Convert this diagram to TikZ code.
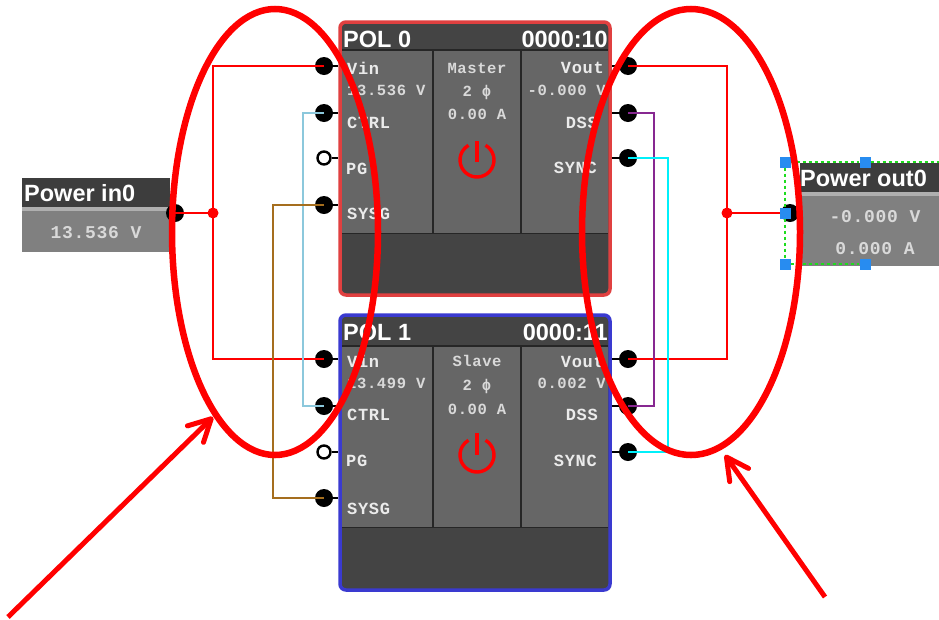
\documentclass[tikz,border=0pt]{standalone}
\usepackage{fontspec}
\setmainfont{Liberation Sans}
\newfontfamily\panelmono[LetterSpace=4]{Liberation Mono}
\usepackage{tikz}
\usetikzlibrary{shapes.geometric, arrows.meta, positioning, calc}
\definecolor{polHead}{RGB}{68, 68, 68}
\definecolor{polBody}{RGB}{102, 102, 102}
\definecolor{polRed}{RGB}{224, 64, 64}
\definecolor{polBlue}{RGB}{58, 58, 208}
\definecolor{powerBody}{RGB}{128, 128, 128}
\definecolor{powerStrip}{RGB}{175, 175, 175}
\definecolor{wireBlue}{RGB}{140, 200, 220}
\definecolor{wireBrown}{RGB}{165, 110, 30}
\definecolor{wirePurple}{RGB}{135, 40, 145}
\definecolor{wireCyan}{RGB}{0, 240, 250}
\definecolor{handleBlue}{RGB}{40, 140, 240}
\definecolor{selGreen}{RGB}{30, 220, 30}

\begin{document}
\begin{tikzpicture}[
  x=1pt, y=-1pt,
  polbox/.style={rectangle, rounded corners=6pt, line width=3.5pt, fill=polHead,
                 minimum width=270pt, inner sep=0pt},
  panel/.style={rectangle, fill=polBody, inner sep=0pt, anchor=north west},
  sep/.style={black!85, line width=1.5pt},
  powerpart/.style={rectangle, anchor=north west, inner sep=0pt},
  title/.style={inner sep=0pt, text=white, font=\fontsize{23.5}{24}\selectfont\bfseries,
                text height=17pt, text depth=0pt},
  lbl/.style={inner sep=0pt, text=white!92!black, font=\fontsize{17}{17}\panelmono\bfseries,
              text height=10pt, text depth=0pt},
  val/.style={inner sep=0pt, text=white!85!black, font=\fontsize{15.5}{15}\panelmono\bfseries,
              text height=9pt, text depth=0pt},
  pval/.style={val, font=\fontsize{18}{18}\panelmono\bfseries},
  port/.style={ellipse, fill=black, minimum width=18pt, minimum height=18pt, inner sep=0pt},
  openport/.style={circle, draw=black, fill=white, line width=2.4pt, minimum size=13pt, inner sep=0pt},
  junction/.style={circle, fill=red, minimum size=11pt, inner sep=0pt},
  stub/.style={black, line width=1.5pt},
  wire/.style={line width=2pt},
  fatwire/.style={line width=2.8pt},
  ring/.style={ellipse, draw=red, line width=6.5pt, inner sep=0pt},
  callout/.style={-{Straight Barb[length=22pt, width=23pt, round]}, red, line width=5pt},
  powericon/.style={red, line width=3.4pt},
  handle/.style={rectangle, fill=handleBlue, minimum size=11pt, inner sep=0pt},
  selbox/.style={selGreen, line width=1.5pt, dashed}
]
  \useasboundingbox (0,0) rectangle (939,619);
  \fill[white] (0,0) rectangle (939,619);

  % Power in
  \node[powerpart, fill=powerBody, minimum width=148pt, minimum height=41pt] (inbody) at (22,211) {};
  \node[powerpart, fill=powerStrip, minimum width=148pt, minimum height=4pt] (instrip) at (22,207) {};
  \node[powerpart, fill=polHead!90!black, minimum width=148pt, minimum height=29pt] (inhead) at (22,178) {};
  \node[title, anchor=west] (intitle) at (24,193) {Power in0};
  \node[pval, anchor=center] (inval) at (96,234) {13.536 V};

  % Power out
  \node[powerpart, fill=powerBody, minimum width=139pt, minimum height=70pt] (outbody) at (800,196) {};
  \node[powerpart, fill=powerStrip, minimum width=139pt, minimum height=4pt] (outstrip) at (800,192) {};
  \node[powerpart, fill=polHead!90!black, minimum width=139pt, minimum height=29pt] (outhead) at (800,163) {};
  \node[title, anchor=west] (outtitle) at (800,178) {Power out0};
  \node[pval, anchor=center] (outvolt) at (875,218) {-0.000 V};
  \node[pval, anchor=center] (outamp) at (875,250) {0.000 A};

  % POL 0
  \node[polbox, draw=polRed, minimum height=273pt] (pol0) at (475,158.5) {};
  \node[panel, minimum width=91pt, minimum height=183pt] (p0a) at (342,50) {};
  \node[panel, minimum width=88pt, minimum height=183pt] (p0b) at (433,50) {};
  \node[panel, minimum width=87pt, minimum height=183pt] (p0c) at (521,50) {};
  \draw[sep] (p0a.north west) -- (p0c.north east);
  \draw[sep] (p0a.south west) -- (p0c.south east);
  \draw[sep] (p0b.north west) -- (p0b.south west);
  \draw[sep] (p0c.north west) -- (p0c.south west);
  \node[title, anchor=west] (t0a) at (343,39) {POL 0};
  \node[title, anchor=east] (t0b) at (608,39) {0000:10};
  \node[lbl, anchor=west] (l0vin) at (347,69) {Vin};
  \node[val, anchor=west] (l0v) at (347,91) {13.536 V};
  \node[lbl, anchor=west] (l0ctrl) at (347,123) {CTRL};
  \node[lbl, anchor=west] (l0pg) at (346,169) {PG};
  \node[lbl, anchor=west] (l0sysg) at (347,214) {SYSG};
  \node[val, anchor=center] (l0mode) at (477,69) {Master};
  \node[val, anchor=center] (l0ph) at (477,92) {2 ϕ};
  \node[val, anchor=center] (l0a) at (477,115) {0.00 A};
  \node[lbl, anchor=east] (l0vout) at (604,68) {Vout};
  \node[val, anchor=east] (l0o) at (606,91) {-0.000 V};
  \node[lbl, anchor=east] (l0dss) at (598,123) {DSS};
  \node[lbl, anchor=east] (l0sync) at (597,168) {SYNC};

  % POL 1
  \node[polbox, draw=polBlue, minimum height=275pt] (pol1) at (475,452.5) {};
  \node[panel, minimum width=91pt, minimum height=181pt] (p1a) at (342,346) {};
  \node[panel, minimum width=88pt, minimum height=181pt] (p1b) at (433,346) {};
  \node[panel, minimum width=87pt, minimum height=181pt] (p1c) at (521,346) {};
  \draw[sep] (p1a.north west) -- (p1c.north east);
  \draw[sep] (p1a.south west) -- (p1c.south east);
  \draw[sep] (p1b.north west) -- (p1b.south west);
  \draw[sep] (p1c.north west) -- (p1c.south west);
  \node[title, anchor=west] (t1a) at (343,332) {POL 1};
  \node[title, anchor=east] (t1b) at (608,332) {0000:11};
  \node[lbl, anchor=west] (l1vin) at (347,362) {Vin};
  \node[val, anchor=west] (l1v) at (347,384) {13.499 V};
  \node[lbl, anchor=west] (l1ctrl) at (347,415) {CTRL};
  \node[lbl, anchor=west] (l1pg) at (346,461) {PG};
  \node[lbl, anchor=west] (l1sysg) at (347,509) {SYSG};
  \node[val, anchor=center] (l1mode) at (477,362) {Slave};
  \node[val, anchor=center] (l1ph) at (477,386) {2 ϕ};
  \node[val, anchor=center] (l1a) at (477,410) {0.00 A};
  \node[lbl, anchor=east] (l1vout) at (604,362) {Vout};
  \node[val, anchor=east] (l1o) at (606,384) {0.002 V};
  \node[lbl, anchor=east] (l1dss) at (598,415) {DSS};
  \node[lbl, anchor=east] (l1sync) at (597,461) {SYNC};

  % Power icons
  \draw[powericon] (477,160) ++(-60:17) arc[start angle=60, end angle=-240, radius=17pt];
  \draw[powericon] (477,141) -- (477,162);
  \draw[powericon] (477,455) ++(-60:17) arc[start angle=60, end angle=-240, radius=17pt];
  \draw[powericon] (477,433) -- (477,455);

  % Ports
  \node[port] (vin0) at (324,66) {};
  \node[port] (ctrl0) at (324,113) {};
  \node[openport] (pg0) at (324,158) {};
  \node[port] (sysg0) at (324,205) {};
  \node[port] (vout0) at (628,66) {};
  \node[port] (dss0) at (628,113) {};
  \node[port] (sync0) at (628,158) {};
  \node[port] (vin1) at (324,359) {};
  \node[port] (ctrl1) at (324,406) {};
  \node[openport] (pg1) at (324,452) {};
  \node[port] (sysg1) at (324,498) {};
  \node[port] (vout1) at (628,359) {};
  \node[port] (dss1) at (628,406) {};
  \node[port] (sync1) at (628,452) {};
  \node[port] (pin) at (175,213) {};
  \node[port] (pout) at (790,213) {};

  % Stubs
  \draw[stub] (vin0) -- (vin0 -| pol0.west);
  \draw[stub] (ctrl0) -- (ctrl0 -| pol0.west);
  \draw[stub] (pg0) -- (pg0 -| pol0.west);
  \draw[stub] (sysg0) -- (sysg0 -| pol0.west);
  \draw[stub] (vout0) -- (vout0 -| pol0.east);
  \draw[stub] (dss0) -- (dss0 -| pol0.east);
  \draw[stub] (sync0) -- (sync0 -| pol0.east);
  \draw[stub] (vin1) -- (vin1 -| pol1.west);
  \draw[stub] (ctrl1) -- (ctrl1 -| pol1.west);
  \draw[stub] (pg1) -- (pg1 -| pol1.west);
  \draw[stub] (sysg1) -- (sysg1 -| pol1.west);
  \draw[stub] (vout1) -- (vout1 -| pol1.east);
  \draw[stub] (dss1) -- (dss1 -| pol1.east);
  \draw[stub] (sync1) -- (sync1 -| pol1.east);

  % Wires
  \coordinate (jinc) at (213,213);
  \coordinate (joutc) at (727,213);
  \draw[wire, red] (pin.center) -- (jinc);
  \draw[wire, red] (vin0.center) -| (jinc);
  \draw[wire, red] (vin1.center) -| (jinc);
  \draw[wire, red] (joutc) -- (pout.center);
  \draw[wire, red] (vout0.center) -| (joutc);
  \draw[wire, red] (vout1.center) -| (joutc);
  \draw[fatwire, wireBlue] (ctrl0.center) -- ++(-21,0) |- (ctrl1.center);
  \draw[fatwire, wireBrown] (sysg0.center) -- ++(-51,0) |- (sysg1.center);
  \draw[fatwire, wirePurple] (dss0.center) -- ++(26,0) |- (dss1.center);
  \draw[fatwire, wireCyan] (sync0.center) -- ++(40,0) |- (sync1.center);
  \node[junction] (jin) at (jinc) {};
  \node[junction] (jout) at (joutc) {};

  % Selection
  \node[handle] (hnw) at (785,162) {};
  \node[handle] (hn) at (865,162) {};
  \node[handle] (hw) at (785,213) {};
  \node[handle] (hsw) at (785,264) {};
  \node[handle] (hs) at (865,264) {};
  \node[handle] (he) at (944,213) {};
  \node[handle] (hse) at (944,264) {};
  \draw[selbox] (hnw) -- (hw);
  \draw[selbox] (hw) -- (hsw);
  \draw[selbox] (hnw) -- (hn);
  \draw[selbox] (hn) -- (939,162);
  \draw[selbox] (hsw) -- (hs);

  % Red marks
  \node[ring, minimum width=206pt, minimum height=446pt] (ringL) at (275,232) {};
  \node[ring, minimum width=218pt, minimum height=446pt] (ringR) at (691,232) {};
  \coordinate (tailL) at (8,617);
  \coordinate (headL) at (213,417);
  \coordinate (tailR) at (825,597);
  \coordinate (headR) at (725,455);
  \draw[callout] (tailL) -- (headL);
  \draw[callout] (tailR) -- (headR);
\end{tikzpicture}
\end{document}
